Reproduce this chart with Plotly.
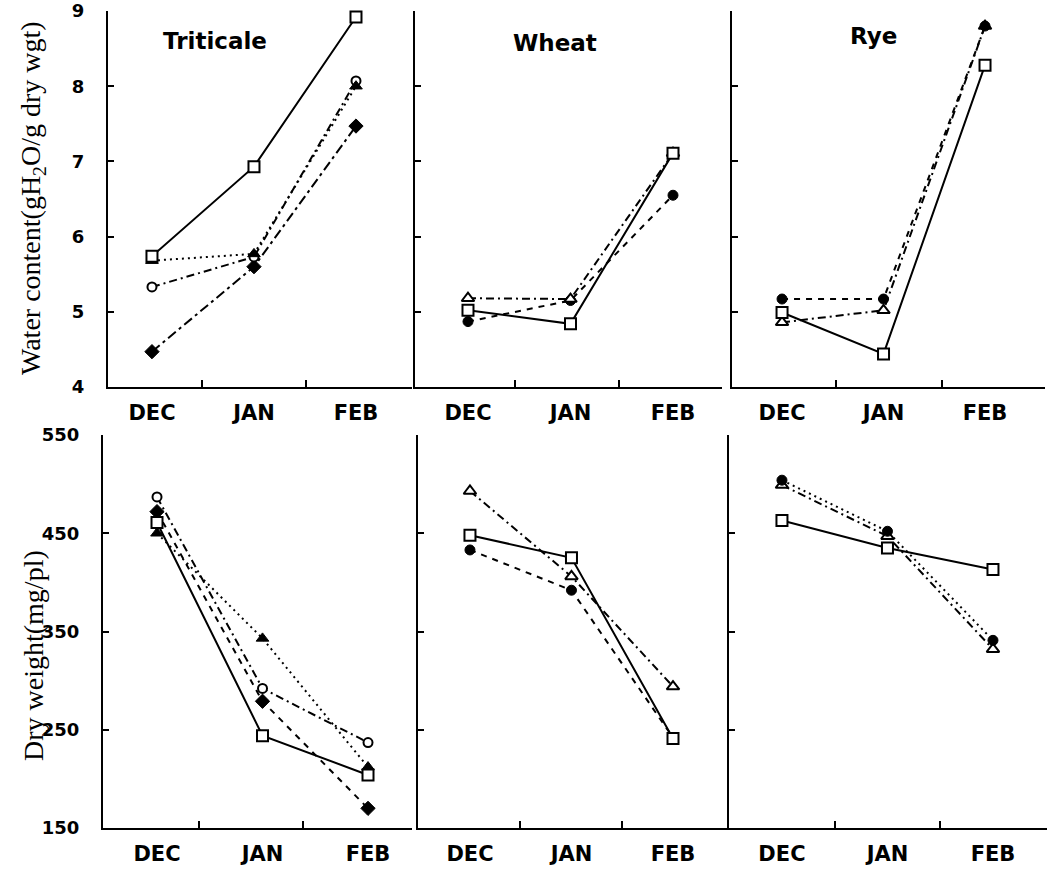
import plotly.graph_objects as go

months = ["DEC", "JAN", "FEB"]

# water content (gH2O / g dry wgt)
triticale_wc_square = [5.74, 6.93, 8.92]
triticale_wc_triangle = [5.68, 5.77, 8.00]
triticale_wc_circle = [5.33, 5.73, 8.07]
triticale_wc_diamond = [4.47, 5.60, 7.47]

wheat_wc_square = [5.02, 4.84, 7.11]
wheat_wc_triangle = [5.18, 5.17, 7.11]
wheat_wc_dot = [4.87, 5.15, 6.55]

rye_wc_square = [4.99, 4.44, 8.28]
rye_wc_triangle = [4.86, 5.02, 8.80]
rye_wc_dot = [5.17, 5.17, 8.80]

# dry weight (mg/pl)
triticale_dw_square = [461, 244, 204]
triticale_dw_triangle = [450, 343, 212]
triticale_dw_circle = [487, 292, 237]
triticale_dw_diamond = [472, 279, 170]

wheat_dw_square = [448, 425, 241]
wheat_dw_triangle = [493, 406, 294]
wheat_dw_dot = [433, 392, 242]

rye_dw_square = [463, 435, 413]
rye_dw_triangle = [499, 447, 332]
rye_dw_dot = [504, 452, 341]

water_ticks = [4, 5, 6, 7, 8, 9]
dry_ticks = [150, 250, 350, 450, 550]

W, H = 1052, 873
xpos = list(range(len(months)))


def px(x):
    return x / W


def py(y):
    return 1 - y / H


# marker / line looks
SQ = dict(symbol="square", size=11, color="white", line=dict(color="black", width=2))
TRI_F = dict(symbol="triangle-up", size=11, color="black", line=dict(color="black", width=1))
TRI_O = dict(symbol="triangle-up", size=11, color="white", line=dict(color="black", width=2))
CIR_O = dict(symbol="circle", size=9, color="white", line=dict(color="black", width=2))
DOT = dict(symbol="circle", size=10, color="black", line=dict(color="black", width=1))
DIA = dict(symbol="diamond", size=11, color="black", line=dict(color="black", width=1))

SOLID = "solid"
DOTTED = "2px,4px"
DASHDOT = "8px,4px,2px,4px"
DASHED = "6px,6px"
LDASHDOT = "10px,4px,3px,4px"

panels = [
    # axis id, x domain px, x range, minor tick x, y domain px, y range, y ticks, show y labels, series
    (1, (108, 412), (-0.431, 2.549), [0.49, 1.51], (11, 387), (4, 9), water_ticks, True, [
        (triticale_wc_diamond, DIA, LDASHDOT),
        (triticale_wc_circle, CIR_O, DASHDOT),
        (triticale_wc_triangle, TRI_F, DOTTED),
        (triticale_wc_square, SQ, SOLID),
    ]),
    (2, (415, 722), (-0.517, 2.478), [0.46, 1.47], (11, 387), (4, 9), water_ticks, False, [
        (wheat_wc_dot, DOT, DASHED),
        (wheat_wc_triangle, TRI_O, DASHDOT),
        (wheat_wc_square, SQ, SOLID),
    ]),
    (3, (732, 1045), (-0.493, 2.591), [0.53, 1.58], (11, 387), (4, 9), water_ticks, False, [
        (rye_wc_triangle, TRI_O, DASHDOT),
        (rye_wc_dot, DOT, DASHED),
        (rye_wc_square, SQ, SOLID),
    ]),
    (4, (103, 412), (-0.512, 2.417), [0.40, 1.38], (435, 828), (150, 550), dry_ticks, True, [
        (triticale_dw_diamond, DIA, DASHED),
        (triticale_dw_circle, CIR_O, DASHDOT),
        (triticale_dw_triangle, TRI_F, DOTTED),
        (triticale_dw_square, SQ, SOLID),
    ]),
    (5, (418, 727), (-0.512, 2.532), [0.49, 1.50], (435, 828), (150, 550), dry_ticks, False, [
        (wheat_dw_dot, DOT, DASHED),
        (wheat_dw_triangle, TRI_O, DASHDOT),
        (wheat_dw_square, SQ, SOLID),
    ]),
    (6, (729, 1047), (-0.502, 2.512), [0.50, 1.50], (435, 828), (150, 550), dry_ticks, False, [
        (rye_dw_triangle, TRI_O, DASHDOT),
        (rye_dw_dot, DOT, DOTTED),
        (rye_dw_square, SQ, SOLID),
    ]),
]

fig = go.Figure()
layout = {}
for n, xd, xr, minor_x, yd, yr, yt, ylab, series in panels:
    sfx = "" if n == 1 else str(n)
    for ys, mk, dash in series:
        fig.add_trace(go.Scatter(
            x=xpos, y=ys, xaxis="x" + sfx, yaxis="y" + sfx,
            mode="lines+markers", marker=mk,
            line=dict(color="black", width=2, dash=dash),
            showlegend=False, cliponaxis=False,
        ))
    layout["xaxis" + sfx] = dict(
        domain=[px(xd[0]), px(xd[1])], range=list(xr), anchor="y" + sfx,
        tickvals=xpos, ticktext=months, ticks="", showgrid=False, zeroline=False,
        showline=True, linecolor="black", linewidth=2, automargin=False,
        minor=dict(tickvals=minor_x, ticks="inside", ticklen=7, tickcolor="black", tickwidth=2),
        tickfont=dict(family="DejaVu Sans", size=21, color="black", weight="bold"),
        ticklabelstandoff=6, fixedrange=True,
    )
    layout["yaxis" + sfx] = dict(
        domain=[py(yd[1]), py(yd[0])], range=list(yr), anchor="x" + sfx,
        tickvals=yt, showticklabels=ylab, ticks="inside", ticklen=6, tickwidth=2,
        tickcolor="black", showgrid=False, zeroline=False, automargin=False,
        showline=True, linecolor="black", linewidth=2,
        tickfont=dict(family="DejaVu Sans", size=18, color="black", weight="bold"),
        ticklabelstandoff=18, fixedrange=True,
    )

titles = [("Triticale", 215, 41), ("Wheat", 555, 43), ("Rye", 873, 36)]
annotations = [
    dict(text=t, x=px(x), y=py(y), xref="paper", yref="paper", showarrow=False,
         xanchor="center", yanchor="middle",
         font=dict(family="DejaVu Sans", size=23, color="black", weight="bold"))
    for t, x, y in titles
]
annotations += [
    dict(text="Water content(gH<sub>2</sub>O/g dry wgt)", x=px(33), y=py(198),
         xref="paper", yref="paper", showarrow=False, textangle=-90,
         xanchor="center", yanchor="middle",
         font=dict(family="Liberation Serif", size=28, color="black")),
    dict(text="Dry weight(mg/pl)", x=px(33), y=py(656),
         xref="paper", yref="paper", showarrow=False, textangle=-90,
         xanchor="center", yanchor="middle",
         font=dict(family="Liberation Serif", size=28, color="black")),
]

fig.update_layout(
    width=W, height=H, margin=dict(l=0, r=0, t=0, b=0, autoexpand=False),
    paper_bgcolor="white", plot_bgcolor="white",
    annotations=annotations, **layout,
)
fig.write_html("out.html", config={"displayModeBar": False},
               post_script="document.body.style.margin = '0';")
